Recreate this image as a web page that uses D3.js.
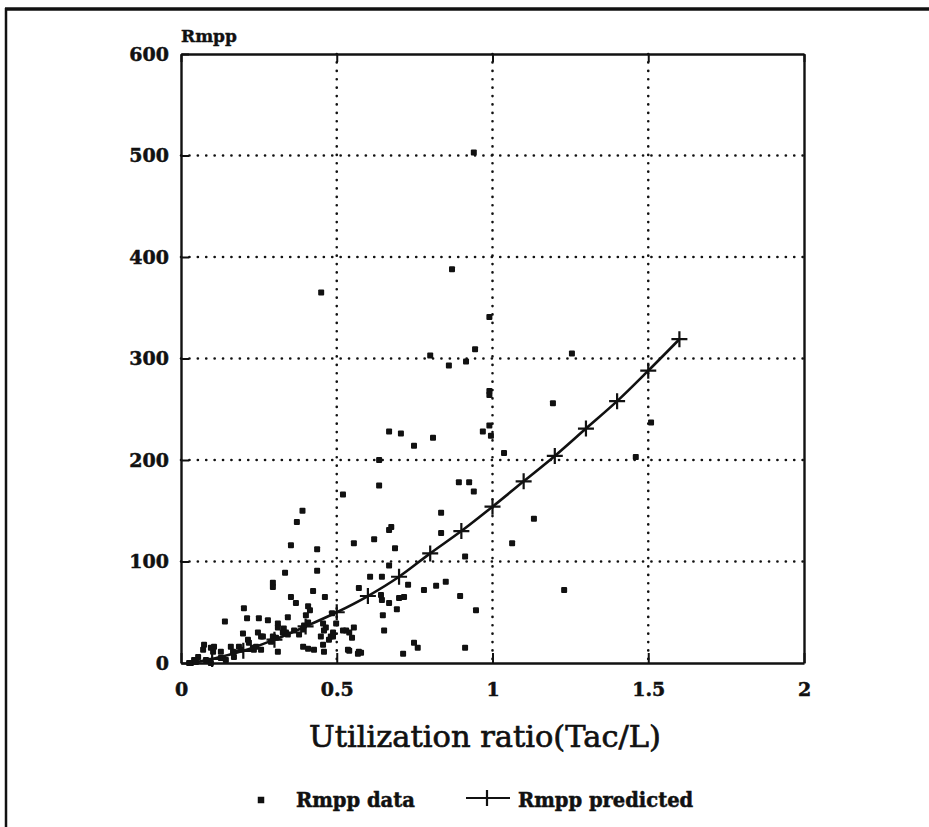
<!DOCTYPE html>
<html>
<head>
<meta charset="utf-8">
<script src="https://cdn.jsdelivr.net/npm/d3@7/dist/d3.min.js"></script>
<style>
  html, body { margin: 0; padding: 0; background: #fff; }
  svg { display: block; }
  text { font-family: "DejaVu Serif", "Liberation Serif", serif; fill: #111; }
</style>
</head>
<body>
<svg id="chart" width="929" height="827"></svg>
<script>
// Measured Rmpp against utilization ratio (Tac/L)
const dataX = [
  0.94, 0.45, 0.87, 0.99, 0.80, 0.86, 0.915, 0.944, 0.99, 0.99, 1.255, 1.194, 0.668, 0.706, 0.748, 0.809,
  0.969, 0.99, 0.995, 0.636, 1.037, 1.46, 1.509, 1.23,
  0.636, 0.892, 0.925, 0.94, 0.835, 1.133, 0.675, 0.668, 0.835, 0.62, 0.687, 1.063, 0.912, 0.668, 0.607,
  0.645, 0.729, 0.78, 0.819, 0.85, 0.642, 0.645, 0.668, 0.70, 0.716, 0.693, 0.896, 0.947, 0.648, 0.652,
  0.748, 0.76, 0.713, 0.912, 0.578,
  0.555, 0.571, 0.498, 0.555, 0.54, 0.53, 0.549, 0.488, 0.54, 0.568,
  0.52, 0.39, 0.372, 0.353, 0.437, 0.334, 0.437, 0.295, 0.295, 0.424, 0.462, 0.353, 0.369, 0.202, 0.212,
  0.25, 0.279, 0.141, 0.343, 0.311, 0.311, 0.408, 0.414, 0.401, 0.33, 0.337, 0.485, 0.465, 0.199, 0.247,
  0.257, 0.295, 0.218, 0.231, 0.257, 0.311, 0.392, 0.408, 0.427, 0.456, 0.459, 0.481, 0.488, 0.536, 0.571,
  0.074, 0.071, 0.106, 0.103, 0.16, 0.167, 0.186, 0.055, 0.042, 0.096, 0.128, 0.144, 0.032,
  0.408, 0.395, 0.456, 0.459, 0.449, 0.475, 0.52, 0.215, 0.263, 0.289, 0.305, 0.327, 0.343, 0.363, 0.379,
  0.392, 0.096, 0.128, 0.193, 0.08, 0.17, 0.026, 0.048, 0.234, 0.241
];
const dataY = [
  503, 365, 388, 341, 303, 293, 297, 309, 268, 264, 305, 256, 228, 226, 214, 222,
  228, 234, 224, 200, 207, 203, 237, 72,
  175, 178, 178, 169, 148, 142, 134, 131, 128, 122, 113, 118, 105, 96, 85,
  85, 77, 72, 76, 80, 67, 62, 59, 64, 65, 53, 66, 52, 47, 32,
  20, 15, 9, 15, 10,
  118, 74, 39, 35, 30, 32, 25, 26, 12, 9,
  166, 150, 139, 116, 112, 89, 91, 79, 75, 71, 65, 65, 59, 54, 44,
  44, 42, 41, 45, 39, 35, 56, 52, 47, 34, 30, 49, 35, 29, 30,
  26, 26, 20, 15, 13, 11, 16, 14, 13, 18, 11, 26, 30, 13, 11,
  18, 13, 16, 11, 16, 11, 16, 6, 3, 0, 5, 3, 0,
  40, 37, 39, 32, 26, 23, 32, 23, 26, 21, 25, 30, 28, 32, 28,
  33, 15, 11, 13, 3, 6, 0, 1, 13, 16
];

// Predicted Rmpp curve
const predX = [0.05, 0.1, 0.2, 0.3, 0.4, 0.5, 0.6, 0.7, 0.8, 0.9, 1.0, 1.1, 1.2, 1.3, 1.4, 1.5, 1.6];
const predY = [1, 4, 12, 23, 36, 50, 66, 85, 108, 130, 154, 179, 204, 231, 258, 288, 319];

const xTicks = [0, 0.5, 1, 1.5, 2];
const xTickLabels = ["0", "0.5", "1", "1.5", "2"];
const yTicks = [0, 100, 200, 300, 400, 500, 600];

const svg = d3.select("#chart");
const plotLeft = 181, plotRight = 804, plotTop = 54, plotBottom = 663;

const x = d3.scaleLinear().domain([0, 2]).range([plotLeft, plotRight]);
const y = d3.scaleLinear().domain([0, 600]).range([plotBottom, plotTop]);

// page frame (top and left edges)
svg.append("line").attr("x1", 5).attr("x2", 929).attr("y1", 9).attr("y2", 9)
  .attr("stroke", "#111").attr("stroke-width", 3.5);
svg.append("line").attr("x1", 6).attr("x2", 6).attr("y1", 8).attr("y2", 827)
  .attr("stroke", "#111").attr("stroke-width", 2.5);

// dotted grid
const grid = svg.append("g").attr("stroke", "#111").attr("stroke-width", 2.6)
  .attr("stroke-linecap", "round").attr("stroke-dasharray", "0.1,8.3");
xTicks.filter(d => d > 0 && d < 2).forEach(d => {
  grid.append("line").attr("x1", x(d)).attr("x2", x(d)).attr("y1", plotTop).attr("y2", plotBottom);
});
yTicks.filter(d => d > 0 && d < 600).forEach(d => {
  grid.append("line").attr("x1", plotLeft).attr("x2", plotRight).attr("y1", y(d)).attr("y2", y(d));
});

// axes with inward ticks
const gx = svg.append("g").attr("transform", `translate(0,${plotBottom})`)
  .call(d3.axisBottom(x).tickValues(xTicks).tickSizeInner(-10).tickSizeOuter(0).tickFormat((d, i) => xTickLabels[i]).tickPadding(29));
const gxTop = svg.append("g").attr("transform", `translate(0,${plotTop})`)
  .call(d3.axisTop(x).tickValues(xTicks).tickSizeInner(-8).tickSizeOuter(0).tickFormat(""));
const gy = svg.append("g").attr("transform", `translate(${plotLeft},0)`)
  .call(d3.axisLeft(y).tickValues(yTicks).tickSizeInner(-8).tickSizeOuter(0).tickPadding(12));
const gyR = svg.append("g").attr("transform", `translate(${plotRight},0)`)
  .call(d3.axisRight(y).tickValues(yTicks).tickSizeInner(0).tickSizeOuter(0).tickFormat(""));

[gx, gxTop, gy, gyR].forEach(g => {
  g.select(".domain").attr("stroke", "#111").attr("stroke-width", 2.4);
  g.selectAll(".tick line").attr("stroke", "#111").attr("stroke-width", 2);
  g.selectAll(".tick text").attr("font-family", "DejaVu Serif").attr("font-weight", "bold")
    .attr("font-size", 19).attr("fill", "#111").attr("stroke", "#111").attr("stroke-width", 0.5);
});
gy.selectAll(".tick text").attr("dy", "0.34em");
gx.selectAll(".tick text").attr("dy", "0.2em");

// axis titles
svg.append("text").attr("x", 181).attr("y", 42).attr("font-size", 17).attr("font-weight", "bold")
  .attr("stroke", "#111").attr("stroke-width", 0.4).text("Rmpp");
svg.append("text").attr("x", 485).attr("y", 747).attr("text-anchor", "middle")
  .attr("font-size", 30.5).attr("stroke", "#111").attr("stroke-width", 0.7).text("Utilization ratio(Tac/L)");

// measured points
const sq = 6;
svg.append("g").selectAll("rect").data(dataX.map((d, i) => [d, dataY[i]])).join("rect")
  .attr("x", d => x(d[0]) - sq / 2).attr("y", d => y(d[1]) - sq / 2)
  .attr("width", sq).attr("height", sq).attr("rx", 1).attr("fill", "#111");

// predicted curve with + markers
const pred = predX.map((d, i) => [d, predY[i]]);
svg.append("path").datum(pred)
  .attr("d", d3.line().x(d => x(d[0])).y(d => y(d[1])).curve(d3.curveMonotoneX))
  .attr("fill", "none").attr("stroke", "#111").attr("stroke-width", 2.6);
const arm = 8;
svg.append("g").selectAll("path").data(pred.slice(1)).join("path")
  .attr("d", d => `M${x(d[0]) - arm},${y(d[1])}H${x(d[0]) + arm}M${x(d[0])},${y(d[1]) - arm}V${y(d[1]) + arm}`)
  .attr("stroke", "#111").attr("stroke-width", 2.2);

// legend
const lg = svg.append("g").attr("font-size", 19.5).attr("font-weight", "bold")
  .attr("stroke", "#111").attr("stroke-width", 0.5);
lg.append("rect").attr("x", 258).attr("y", 797).attr("width", 6).attr("height", 6).attr("fill", "#111");
lg.append("text").attr("x", 296).attr("y", 807).text("Rmpp data");
lg.append("path").attr("d", "M466,798H510M487,790V806").attr("stroke-width", 2.2).attr("fill", "none");
lg.append("text").attr("x", 518).attr("y", 807).text("Rmpp predicted");
</script>
</body>
</html>
